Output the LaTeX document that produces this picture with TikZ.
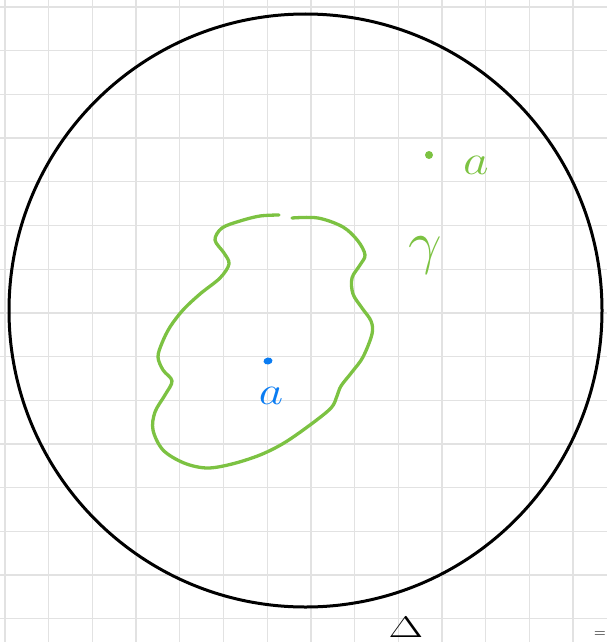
\documentclass[tikz,border=0pt]{standalone}
\usepackage{tikz}
\usepackage{amsmath}
\usetikzlibrary{calc, shapes.geometric}
\definecolor{skGreen}{HTML}{7CC242}
\definecolor{skBlue}{HTML}{0A7CF2}
\definecolor{skGrid}{HTML}{E2E2E2}
\tikzset{
  gridline/.style={skGrid, line width=1.3pt},
  disc/.style={draw=black, line width=3pt},
  loopcurve/.style={skGreen, line width=3.3pt, line cap=round, line join=round},
  spot/.style={ellipse, inner sep=0pt, minimum width=9pt, minimum height=7pt},
  handlabel/.style={inner sep=0pt, font=\Huge}
}

\begin{document}
\begin{tikzpicture}[x=1pt, y=-1pt]
  \useasboundingbox (0,0) rectangle (607,642);
  \clip (0,0) rectangle (607,642);
  % grid
  \foreach \k in {0,...,13}
    \draw[gridline] ({5+43.7*\k},0) -- ({5+43.7*\k},642);
  \foreach \k in {0,...,14}
    \draw[gridline] (0,{7+43.7*\k}) -- (607,{7+43.7*\k});
  % big circle
  \draw[disc] (305.5,310.5) circle[radius=296.5pt];
  % green loop, open at the top
  \draw[loopcurve] plot[smooth, tension=0.55] coordinates {
    (292,218) (318,218) (343,227) (358,241) (365,255) (360,265) (352,278)
    (353,294) (362,308) (371,321) (372,334) (363,357) (352,372) (341,386)
    (337,396) (331,408) (310,425) (284,443) (260,455) (232,464) (207,468)
    (184,463) (163,450) (153,430) (155,412) (165,395) (172,381) (163,370)
    (158,357) (162,343) (170,327) (183,310) (200,294) (220,278) (229,264)
    (224,253) (215,240) (222,228) (240,221) (260,216) (279,215)};
  % points and labels
  \node[spot, fill=skBlue, rotate=10] (pa) at (268,361) {};
  \node[handlabel, text=skBlue, xscale=1.9, yscale=1.6] (la) at (271,396) {$a$};
  \node[spot, fill=skGreen, minimum width=8pt, minimum height=8pt] (pb) at (429,155) {};
  \node[handlabel, text=skGreen, xscale=2.0, yscale=1.7] (lb) at (476,165) {$a$};
  \node[handlabel, text=skGreen, scale=2.4] (gam) at (425,255) {$\gamma$};
  \node[handlabel, xscale=1.8, yscale=1.2] (delta) at (406,627) {$\Delta$};
  \node[handlabel, scale=0.65] (eq) at (600,635) {$=$};
\end{tikzpicture}
\end{document}
